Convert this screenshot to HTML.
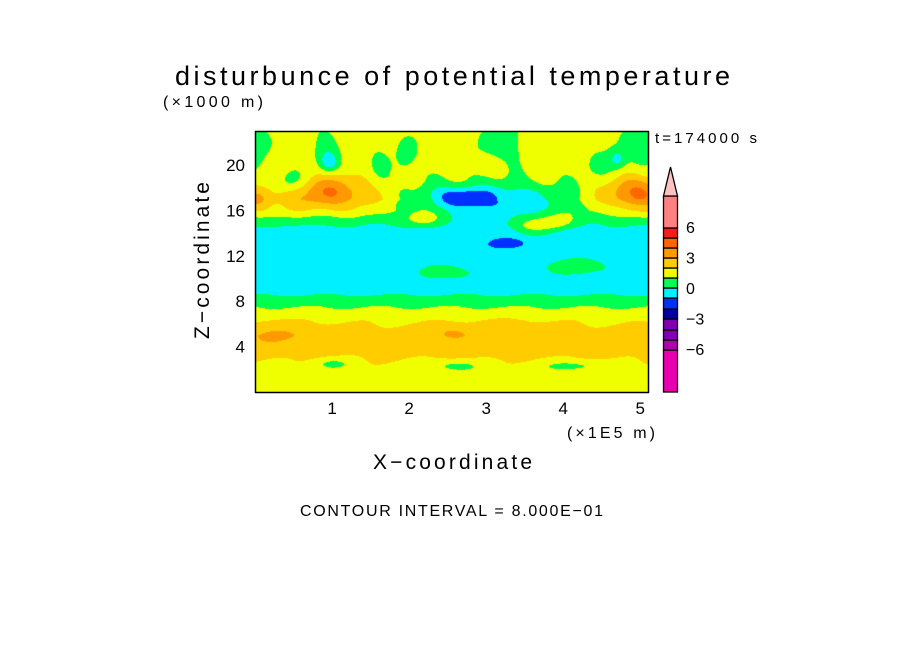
<!DOCTYPE html>
<html><head><meta charset="utf-8">
<style>
body{margin:0;background:#fff;width:904px;height:654px;overflow:hidden;font-family:"Liberation Sans",sans-serif;}
svg{position:absolute;left:0;top:0}
canvas{position:absolute;left:255px;top:131px}
</style></head>
<body>
<canvas id="field" width="393" height="261"></canvas>
<svg id="chart" width="904" height="654">
<text x="175" y="85" font-size="27" textLength="555" lengthAdjust="spacing">disturbunce of potential temperature</text>
<text x="163" y="107" font-size="16" textLength="100" lengthAdjust="spacing">(×1000 m)</text>
<text x="655" y="143" font-size="15" textLength="102" lengthAdjust="spacing">t=174000 s</text>
<text transform="translate(209,261) rotate(-90)" x="-78" font-size="21" textLength="157" lengthAdjust="spacing">Z−coordinate</text>
<text x="373" y="469" font-size="21" textLength="159" lengthAdjust="spacing">X−coordinate</text>
<text x="567" y="438" font-size="16" textLength="88" lengthAdjust="spacing">(×1E5 m)</text>
<text x="300" y="516" font-size="16" textLength="303" lengthAdjust="spacing">CONTOUR INTERVAL = 8.000E−01</text>
<rect x="255.5" y="131.5" width="393" height="261" fill="none" stroke="#000" stroke-width="1.5"/>
<g id="xt"></g><g id="yt"></g><g id="cb"></g>
</svg>
<script>
// axis domains
const xMin=0, xMax=5.1, zMin=0, zMax=23;
const X0=255, X1=648, Y0=131, Y1=392;
const sx=v=>X0+(v-xMin)/(xMax-xMin)*(X1-X0);
const sz=v=>Y1-(v-zMin)/(zMax-zMin)*(Y1-Y0);
const xTicks=[1,2,3,4,5];
const zTicks=[4,8,12,16,20];
// row profile of the field
const profZ=[0,1,2,3.5,5,6.3,7.3,8.2,9,10,12,13,14.3,15.2,16,17,18,19,20,21,23];
const profV=[0.4,0.5,0.6,1.0,1.1,0.7,0.1,-0.5,-1.2,-1.3,-1.2,-1.3,-1.1,-0.3,0.5,0.9,0.6,0.4,0.3,0.25,0.25];
// anomaly blobs: x (1e5 m), z (km), amplitude, spread x, spread z
const blobX=[1.0,4.9,0.05,2.65,3.1,3.2,0.45,0.05,0.9,4.95,0.97,3.28,2.5,4.2,3.3,2.55,1.0,2.6,4.1,0.3,1.95,4.5,3.6,3.9,2.2,1.6,4.7];
const blobZ=[17.7,17.7,17.0,17.2,16.9,22,18.5,22,21.5,21.5,20.2,13.1,10.5,11,5,5.2,2.5,2.3,2.3,5,20.5,19,14.6,15,15.2,19.5,20.5];
const blobA=[1.7,2.0,1.0,-1.4,-2.3,-0.7,-0.9,-0.6,-0.6,-0.6,-1.3,-1.0,0.8,0.8,0.5,0.7,-0.9,-0.9,-0.9,0.6,-0.5,-0.5,1.2,1.0,0.9,-0.4,-1.2];
const blobSx=[0.35,0.3,0.12,0.22,0.8,0.2,0.15,0.1,0.1,0.15,0.08,0.15,0.3,0.4,0.4,0.15,0.18,0.25,0.3,0.4,0.1,0.2,0.2,0.2,0.2,0.1,0.08];
const blobSz=[1.0,1.0,0.8,0.55,1.1,1.2,0.7,1.5,1.5,1.5,0.6,0.3,0.6,0.6,0.9,0.5,0.35,0.35,0.35,0.8,1.5,1.2,0.5,0.5,0.5,1.5,0.6];
// contour levels (interval 0.8) and colours
const levels=[-5.6,-4.8,-4.0,-3.2,-2.4,-1.6,-0.8,0,0.8,1.6,2.4,3.2,4.0,4.8,5.6];
const colors=["#e800b0","#b000b0","#8000b0","#8000b0","#0000a0","#0030ff","#00f0ff","#00ff50","#f0ff00","#ffcc00","#ff9900","#ff6600","#ff1a1a","#ff8080","#ffa0a0","#ffa0a0"];
const cbLabels=["6","3","0","−3","−6"];
const cbLabelVals=[6,3,0,-3,-6];

function prof(z){for(let i=1;i<profZ.length;i++){if(z<=profZ[i]){const t=(z-profZ[i-1])/(profZ[i]-profZ[i-1]);return profV[i-1]+t*(profV[i]-profV[i-1]);}}return profV[profV.length-1];}
function field(x,z){let v=prof(z);for(let i=0;i<blobX.length;i++){const dx=(x-blobX[i])/blobSx[i],dz=(z-blobZ[i])/blobSz[i];v+=blobA[i]*Math.exp(-0.5*(dx*dx+dz*dz));}
 v+=0.2*Math.sin(x*11+z*0.9)*Math.exp(-Math.pow((z-18.5)/3,2));
 v+=0.1*Math.sin(x*7-z*1.3);return v;}
const cv=document.getElementById('field'),ctx=cv.getContext('2d');
const W=cv.width,H=cv.height,img=ctx.createImageData(W,H);
const rgb=colors.map(c=>[parseInt(c.substr(1,2),16),parseInt(c.substr(3,2),16),parseInt(c.substr(5,2),16)]);
for(let py=0;py<H;py++){const z=zMax-(py+0.5)/H*(zMax-zMin);for(let px=0;px<W;px++){const x=xMin+(px+0.5)/W*(xMax-xMin);const v=field(x,z);let k=0;while(k<levels.length&&v>=levels[k])k++;const c=rgb[k],o=(py*W+px)*4;img.data[o]=c[0];img.data[o+1]=c[1];img.data[o+2]=c[2];img.data[o+3]=255;}}
ctx.putImageData(img,0,0);
const NS="http://www.w3.org/2000/svg";
const xt=document.getElementById('xt');
xTicks.forEach(t=>{const e=document.createElementNS(NS,'text');e.setAttribute('x',sx(t));e.setAttribute('y',414);e.setAttribute('text-anchor','middle');e.setAttribute('font-size','17');e.textContent=t;


xt.appendChild(e);});
const yt=document.getElementById('yt');
zTicks.forEach(t=>{const e=document.createElementNS(NS,'text');e.setAttribute('x',245);e.setAttribute('y',sz(t)+6);e.setAttribute('text-anchor','end');e.setAttribute('font-size','17');e.textContent=t;


yt.appendChild(e);});
// colorbar
const cb=document.getElementById('cb');
const segBounds=[392,350,340,330,319,309,298,288,278,268,258,248,238,228,196];
for(let i=0;i<colors.length-1;i++){const r=document.createElementNS(NS,'rect');const yb=segBounds[i],ya=segBounds[i+1];
r.setAttribute('x',663.5);r.setAttribute('y',ya);r.setAttribute('width',14);r.setAttribute('height',yb-ya);r.setAttribute('fill',colors[i]);r.setAttribute('stroke','#000');r.setAttribute('stroke-width','1.3');


cb.appendChild(r);}
const tri=document.createElementNS(NS,'polygon');tri.setAttribute('points','663.5,196 677.5,196 670.5,167');tri.setAttribute('fill','#ffc0c0');tri.setAttribute('stroke','#000');tri.setAttribute('stroke-width','1.3');


cb.appendChild(tri);
const lblY=v=>288-v*(30.5/3);
cbLabels.forEach((l,i)=>{const e=document.createElementNS(NS,'text');e.setAttribute('x',686);e.setAttribute('y',lblY(cbLabelVals[i])+6);e.setAttribute('font-size','16');e.textContent=l;


cb.appendChild(e);});
</script>
</body></html>
